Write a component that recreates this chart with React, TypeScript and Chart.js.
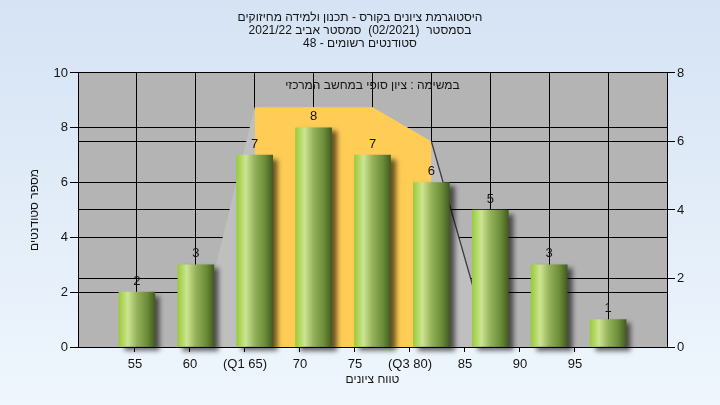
import React, { useEffect, useRef } from 'react';
import { Chart, registerables } from 'chart.js';
Chart.register(...registerables);

const categories = ['55', '60', '(Q1 65)', '70', '75', '(Q3 80)', '85', '90', '95'];
const barPositions = [1, 2, 3, 4, 5, 6, 7, 8, 9];
const counts = [2, 3, 7, 8, 7, 6, 5, 3, 1];
const shadePositions = [2, 3, 4, 5, 6, 7];
const shadeValues = [0, 7, 7, 7, 6, 0];
const quartilePositions = [3, 4, 5, 6];
const quartileValues = [7, 7, 7, 6];
const tailPositions = [6, 7];
const tailValues = [6, 0];
const titleLines = [
  'היסטוגרמת ציונים בקורס - תכנון ולמידה מחיזוקים',
  'בסמסטר  (02/2021)  סמסטר אביב 2021/22',
  'סטודנטים רשומים - 48',
];
const noteText = 'במשימה : ציון סופי במחשב המרכזי';
const xTitle = 'טווח ציונים';
const yTitle = 'מספר סטודנטים';

const FONT = "'Liberation Sans', Arial, sans-serif";
const TEXT = '#141414';

const bgPlugin = {
  id: 'bgPlugin',
  beforeDraw(chart: any) {
    const { ctx, width, height, chartArea } = chart;
    ctx.save();
    const g = ctx.createLinearGradient(0, 0, 0, height);
    g.addColorStop(0, '#d5e3f4');
    g.addColorStop(1, '#eff6fd');
    ctx.fillStyle = g;
    ctx.fillRect(0, 0, width, height);
    if (chartArea) {
      ctx.fillStyle = '#b4b4b4';
      ctx.fillRect(chartArea.left, chartArea.top, chartArea.right - chartArea.left, chartArea.bottom - chartArea.top);
    }
    ctx.restore();
  },
};

const shadowPlugin = {
  id: 'shadowPlugin',
  beforeDatasetDraw(chart: any, args: any) {
    const ctx = chart.ctx;
    ctx.save();
    if (args.index === 0) {
      ctx.shadowColor = 'rgba(0,0,0,0.6)';
      ctx.shadowBlur = 5;
      ctx.shadowOffsetX = 5;
      ctx.shadowOffsetY = 4;
    }
  },
  afterDatasetDraw(chart: any) {
    chart.ctx.restore();
  },
};

const labelPlugin = {
  id: 'labelPlugin',
  afterDatasetsDraw(chart: any) {
    const { ctx, chartArea } = chart;
    const meta = chart.getDatasetMeta(0);
    ctx.save();
    ctx.font = `13px ${FONT}`;
    ctx.fillStyle = TEXT;
    ctx.textAlign = 'center';
    ctx.textBaseline = 'middle';
    meta.data.forEach((el: any, i: number) => {
      ctx.fillText(String(counts[i]), el.x, el.y - 11);
    });
    ctx.font = `12px ${FONT}`;
    ctx.fillText(noteText, (chartArea.left + chartArea.right) / 2, chartArea.top + 13);
    ctx.restore();
  },
};

export default function App() {
  const ref = useRef<HTMLCanvasElement>(null);
  useEffect(() => {
    document.body.style.margin = '0';
    const canvas = ref.current!;
    const barFill = (c: any) => {
      const chart = c.chart;
      const xs = chart.scales && chart.scales.x;
      if (!xs || !chart.chartArea) return '#8fb848';
      const px = xs.getPixelForValue(barPositions[c.dataIndex]);
      const g = chart.ctx.createLinearGradient(px - 18, 0, px + 18, 0);
      g.addColorStop(0, '#9bcb3b');
      g.addColorStop(0.25, '#cce593');
      g.addColorStop(0.5, '#95b259');
      g.addColorStop(0.8, '#698a37');
      g.addColorStop(1, '#445c20');
      return g;
    };
    const chart = new Chart(canvas, {
      type: 'bar',
      data: {
        datasets: [
          {
            type: 'bar',
            data: barPositions.map((x, i) => ({ x, y: counts[i] })),
            xAxisID: 'x',
            yAxisID: 'y',
            barThickness: 36,
            backgroundColor: barFill,
            borderWidth: 0,
            order: 0,
            clip: false,
          } as any,
          {
            type: 'line',
            data: tailPositions.map((x, i) => ({ x, y: tailValues[i] })),
            xAxisID: 'x',
            yAxisID: 'y2',
            borderColor: '#3c3c3c',
            borderWidth: 1.3,
            pointRadius: 0,
            fill: false,
            order: 1,
          },
          {
            type: 'line',
            data: quartilePositions.map((x, i) => ({ x, y: quartileValues[i] })),
            xAxisID: 'x',
            yAxisID: 'y2',
            borderWidth: 0,
            borderColor: 'rgba(0,0,0,0)',
            backgroundColor: '#ffcc55',
            pointRadius: 0,
            fill: 'origin',
            order: 2,
          },
          {
            type: 'line',
            data: shadePositions.map((x, i) => ({ x, y: shadeValues[i] })),
            xAxisID: 'x',
            yAxisID: 'y2',
            borderWidth: 0,
            borderColor: 'rgba(0,0,0,0)',
            backgroundColor: '#bfbfbf',
            pointRadius: 0,
            fill: 'origin',
            order: 3,
          },
        ],
      },
      options: {
        responsive: false,
        animation: false,
        layout: { padding: 0 },
        plugins: {
          legend: { display: false },
          tooltip: { enabled: false },
          title: {
            display: true,
            text: titleLines,
            color: TEXT,
            font: { family: FONT, size: 12, weight: 'normal', lineHeight: 1.05 },
            padding: { top: 11.75, bottom: 23.4 },
          },
        },
        scales: {
          x: {
            type: 'linear',
            position: 'bottom',
            offset: false,
            min: 0,
            max: 10,
            ticks: { display: false, stepSize: 1 },
            grid: { color: '#000', drawTicks: false, lineWidth: 1, offset: false },
            border: { display: false },
            afterFit: (s: any) => { s.height = 0; },
          },
          x2: {
            type: 'linear',
            position: 'bottom',
            offset: false,
            min: -1.036,
            max: 9.673,
            afterBuildTicks: (s: any) => { s.ticks = categories.map((_, i) => ({ value: i })); },
            ticks: {
              callback: (v: any) => categories[v],
              color: TEXT,
              font: { family: FONT, size: 13 },
              padding: 5,
              maxRotation: 0,
              autoSkip: false,
            },
            grid: { drawOnChartArea: false, tickLength: 5, color: '#000', offset: false },
            border: { color: '#000' },
            title: {
              display: true,
              text: xTitle,
              color: TEXT,
              font: { family: FONT, size: 12 },
              padding: { top: 4, bottom: 17.8 },
            },
            afterFit: (s: any) => { s.height = 58; },
          },
          y: {
            position: 'left',
            min: 0,
            max: 10,
            ticks: { stepSize: 2, padding: 2, color: TEXT, font: { family: FONT, size: 13 } },
            grid: { color: '#000', tickLength: 8 },
            border: { color: '#000' },
            title: {
              display: true,
              text: yTitle,
              color: TEXT,
              font: { family: FONT, size: 12 },
              padding: { top: 27, bottom: 0 },
            },
            afterFit: (s: any) => { s.width = 78; },
          },
          y2: {
            position: 'right',
            min: 0,
            max: 8,
            ticks: { stepSize: 2, padding: 2, color: TEXT, font: { family: FONT, size: 13 } },
            grid: { color: '#000', tickLength: 8 },
            border: { color: '#000' },
            afterFit: (s: any) => { s.width = 53; },
          },
        },
      } as any,
      plugins: [bgPlugin, shadowPlugin, labelPlugin],
    });
    return () => chart.destroy();
  }, []);
  return (
    <div style={{ position: 'absolute', left: 0, top: 0, width: 720, height: 405 }}>
      <canvas ref={ref} width={720} height={405} style={{ display: 'block' }} />
    </div>
  );
}
